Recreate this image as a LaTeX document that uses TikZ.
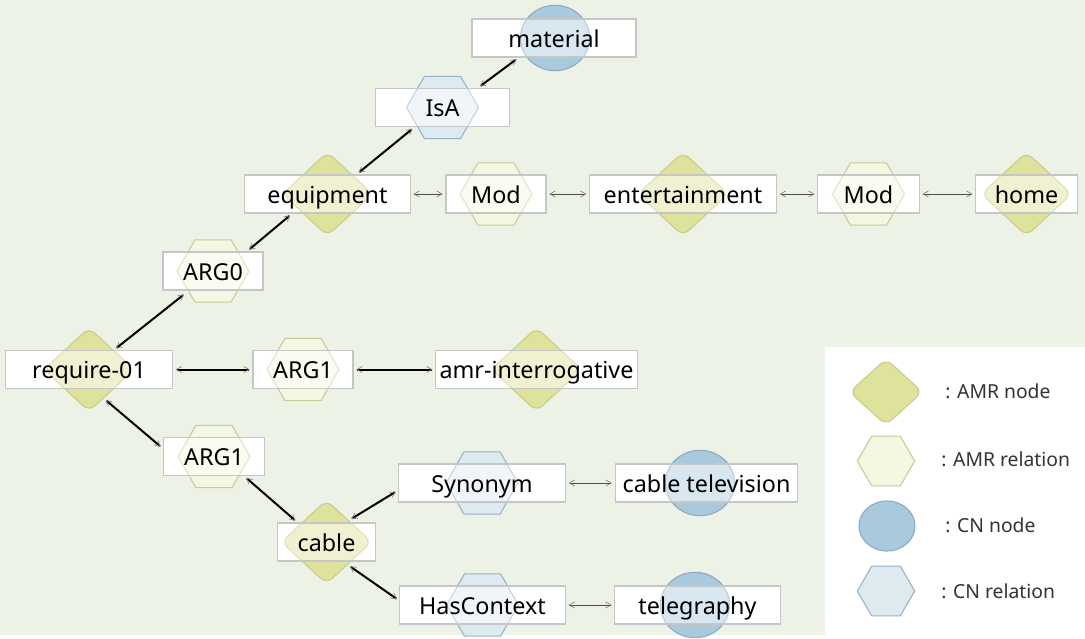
\documentclass[tikz,border=0pt]{standalone}
\usepackage{fontspec}
\setmainfont{Noto Sans}
\usetikzlibrary{shapes.geometric,arrows.meta}

\definecolor{bgcol}{HTML}{EDF2E6}
\definecolor{boxline}{HTML}{C6C6C6}
\definecolor{amrfill}{HTML}{DFE29B}
\definecolor{amrline}{HTML}{C9CC8C}
\definecolor{relfill}{HTML}{F4F7E2}
\definecolor{relline}{HTML}{C8CB98}
\definecolor{cnfill}{HTML}{A9CADC}
\definecolor{cnline}{HTML}{8DAAC0}
\definecolor{cnrelfill}{HTML}{DDEBF1}
\definecolor{cnrelline}{HTML}{98B2C6}

\tikzstyle{block} = [draw=boxline, line width=0.9pt, rectangle, fill=white, minimum height=28.5pt, inner sep=0pt, text height=16.5pt, text depth=2.6pt, font=\fontsize{17.5}{20}\selectfont]
\tikzstyle{amr} = [diamond, rounded corners=6pt, fill=amrfill, draw=amrline, line width=0.8pt, minimum width=68pt, minimum height=63pt, inner sep=0pt]
\tikzstyle{amrrel} = [regular polygon, regular polygon sides=6, fill=relfill, draw=relline, line width=0.8pt, minimum size=54pt, inner sep=0pt]
\tikzstyle{cn} = [ellipse, fill=cnfill, draw=cnline, line width=0.8pt, minimum width=52pt, minimum height=49pt, inner sep=0pt]
\tikzstyle{cnrel} = [regular polygon, regular polygon sides=6, fill=cnrelfill, draw=cnrelline, line width=0.8pt, minimum size=54pt, inner sep=0pt]
\tikzstyle{seen} = [fill opacity=0.45, draw opacity=0.5]
% the shape shows faintly through the white label box
\tikzstyle{amrbox} = [block, path picture={\node[amr, seen] at (path picture bounding box.center) {};}]
\tikzstyle{relbox} = [block, path picture={\node[amrrel, seen] at (path picture bounding box.center) {};}]
\tikzstyle{cnrelbox} = [block, path picture={\node[cnrel, seen] at (path picture bounding box.center) {};}]
\tikzset{cnbox/.style={block, path picture={\node[cn, seen] at ([xshift=#1]path picture bounding box.center) {};}}}
\tikzstyle{link} = [line width=1.5pt, black, {Straight Barb[length=4pt, width=4.5pt, line width=0.5pt, color=gray]}-{Straight Barb[length=4pt, width=4.5pt, line width=0.5pt, color=gray]}, shorten <=2pt, shorten >=2pt]
\tikzstyle{thinlink} = [link, line width=0.6pt, black!70]
\tikzstyle{legtext} = [anchor=west, inner sep=0pt, text=black!80, font=\fontsize{14.5}{18}\selectfont]

\begin{document}
\begin{tikzpicture}[x=0.75pt, y=-0.75pt]
        \fill[bgcol] (0,0) rectangle (1085,635);

        % shapes under the labels
        \node[cn] (material-s) at (555,38) {};
        \node[cnrel] (isa-s) at (442.5,107.5) {};
        \node[amr] (equipment-s) at (327.5,194) {};
        \node[amrrel] (mod1-s) at (496,194) {};
        \node[amr] (entertainment-s) at (683,194) {};
        \node[amrrel] (mod2-s) at (868.5,194) {};
        \node[amr] (home-s) at (1026.5,194) {};
        \node[amrrel] (arg0-s) at (213,271) {};
        \node[amr] (require-s) at (89,369.5) {};
        \node[amrrel] (arg1a-s) at (303,369.5) {};
        \node[amr] (interrog-s) at (536.5,369.5) {};
        \node[amrrel] (arg1b-s) at (214,456.5) {};
        \node[amr] (cable-s) at (326.5,542) {};
        \node[cnrel] (synonym-s) at (482,483) {};
        \node[cn] (cabletv-s) at (700,483) {};
        \node[cnrel] (hascontext-s) at (482.5,605) {};
        \node[cn] (telegraphy-s) at (695,605) {};

        % label boxes
        \node[cnbox=0.75pt, minimum width=123pt] (material) at (554,38) {material};
        \node[cnrelbox, minimum width=101pt] (isa) at (442.5,107.5) {IsA};
        \node[amrbox, minimum width=124pt] (equipment) at (327.5,194) {equipment};
        \node[relbox, minimum width=75pt] (mod1) at (496,194) {Mod};
        \node[amrbox, minimum width=140pt] (entertainment) at (683,194) {entertainment};
        \node[relbox, minimum width=76pt] (mod2) at (868.5,194) {Mod};
        \node[amrbox, minimum width=76pt] (home) at (1026.5,194) {home};
        \node[relbox, minimum width=75pt] (arg0) at (213,271) {ARG0};
        \node[amrbox, minimum width=125pt] (require) at (89,369.5) {require-01};
        \node[relbox, minimum width=75pt] (arg1a) at (303,369.5) {ARG1};
        \node[amrbox, minimum width=151pt] (interrog) at (536.5,369.5) {amr-interrogative};
        \node[relbox, minimum width=76pt] (arg1b) at (214,456.5) {ARG1};
        \node[amrbox, minimum width=74pt] (cable) at (326.5,542) {cable};
        \node[cnrelbox, minimum width=125pt] (synonym) at (482,483) {Synonym};
        \node[cnbox=-4.9pt, minimum width=137pt] (cabletv) at (706.5,483) {cable television};
        \node[cnrelbox, minimum width=124pt] (hascontext) at (482.5,605) {HasContext};
        \node[cnbox=-1.9pt, minimum width=124pt] (telegraphy) at (697.5,605) {telegraphy};

        % connectors
        \draw[link] (material.209) -- (isa.29);
        \draw[link] (isa.215) -- (equipment.34);
        \draw[link] (equipment.209) -- (arg0.30);
        \draw[link, shorten <=4pt] (arg0-s.219) -- (require-s.38);
        \draw[link] (require.east) -- (arg1a.west);
        \draw[link] (arg1a.east) -- (interrog.west);
        \draw[link] (require-s.297) -- (arg1b.171);
        \draw[link] (arg1b.327) -- (cable.146);
        \draw[link] (cable-s.44) -- (synonym.185);
        \draw[link] (cable-s.313) -- (hascontext.177);
        \draw[thinlink] (synonym) -- (cabletv);
        \draw[thinlink] (hascontext) -- (telegraphy);
        \draw[thinlink] (equipment) -- (mod1);
        \draw[thinlink] (mod1) -- (entertainment);
        \draw[thinlink] (entertainment) -- (mod2);
        \draw[thinlink] (mod2) -- (home);

        % legend
        \fill[white] (825,347) rectangle (1085,635);
        \node[amr, minimum width=55pt, minimum height=50pt] (key-amr) at (886,392) {};
        \node[amrrel, minimum size=43pt] (key-rel) at (886,461) {};
        \node[cn, minimum width=42pt, minimum height=37.5pt] (key-cn) at (887,526) {};
        \node[cnrel, minimum size=43pt] (key-cnrel) at (886,591) {};
        \node[legtext] (key-amr-t) at (945,391) {: AMR node};
        \node[legtext] (key-rel-t) at (941,459) {: AMR relation};
        \node[legtext] (key-cn-t) at (945,525) {: CN node};
        \node[legtext] (key-cnrel-t) at (941,591) {: CN relation};
    \end{tikzpicture}
\end{document}
